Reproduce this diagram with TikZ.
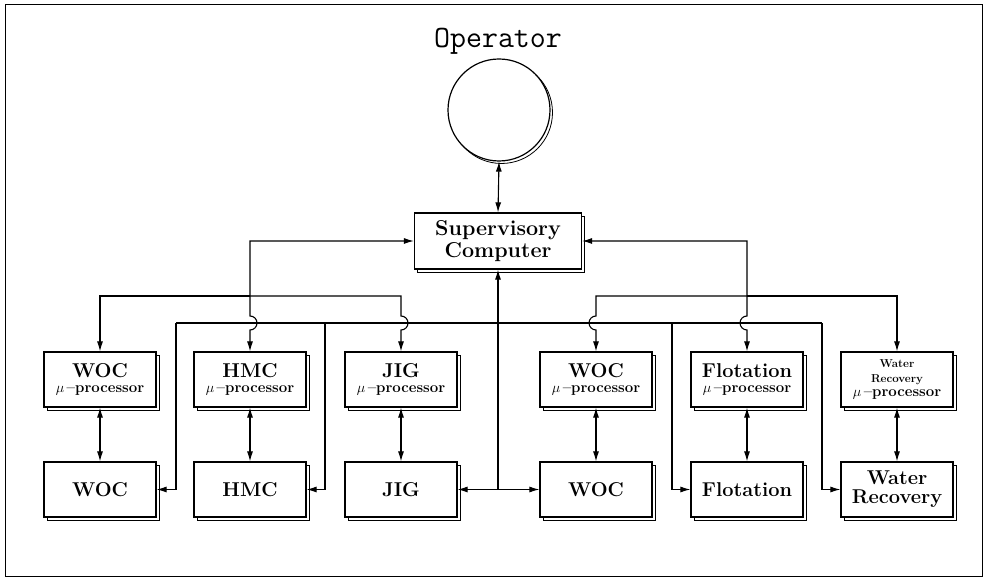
\documentclass[tikz,border=0pt]{standalone}
\usepackage{fontspec}
\usetikzlibrary{arrows.meta,shadows}
\newcommand\lblfont{\fontsize{20}{24}\selectfont\bfseries}
\newcommand\supfont{\fontsize{21.5}{26}\selectfont\bfseries}
\newcommand\prfont{\fontsize{15}{17}\selectfont\bfseries}
\newcommand\wrsmall{\fontsize{11.5}{14}\selectfont\bfseries}
\newcommand\mup{$\mu$\,--processor}
\begin{document}
\begin{tikzpicture}[x=1pt,y=1pt,line width=1.1pt,
  tip/.style={-{Latex[length=10pt,width=6pt]}},
  both/.style={{Latex[length=10pt,width=6pt]}-{Latex[length=10pt,width=6pt]}},
  shad/.style={copy shadow={shadow xshift=3pt,shadow yshift=-3pt,draw=black,fill=white,line width=0.8pt}},
  blk/.style={draw,line width=1.2pt,fill=white,minimum width=112pt,minimum height=55pt,inner sep=0pt,align=center,shad},
  supbox/.style={blk,minimum width=167pt,minimum height=56pt},
  opcircle/.style={circle,draw,line width=1.2pt,fill=white,minimum size=102pt,inner sep=0pt,
     copy shadow={shadow xshift=2.5pt,shadow yshift=-2.5pt,draw=black,fill=white,line width=0.8pt}},
]
\useasboundingbox (0,0) rectangle (987,580);
\draw[line width=1pt] (5,3) rectangle (982,575);

% operator
\node[font=\fontsize{31}{34}\selectfont\ttfamily] (optext) at (498,539) {Operator};
\node[opcircle] (op) at (499,470) {};

% supervisory computer
\node[supbox] (sup) at (498,339) {\supfont Supervisory\\[2pt]\supfont Computer};

% micro-processor row
\node[blk] (woc1p) at (100,200.5) {\lblfont WOC\\[3pt]\prfont\mup};
\node[blk] (hmcp)  at (250,200.5) {\lblfont HMC\\[3pt]\prfont\mup};
\node[blk] (jigp)  at (401,200.5) {\lblfont JIG\\[3pt]\prfont\mup};
\node[blk] (woc2p) at (596,200.5) {\lblfont WOC\\[3pt]\prfont\mup};
\node[blk] (flop)  at (747,200.5) {\lblfont Flotation\\[3pt]\prfont\mup};
\node[blk] (wrp)   at (897,200.5) {\wrsmall Water\\[3pt]\wrsmall Recovery\\[2pt]\prfont\mup};

% plant row
\node[blk] (woc1) at (100,90.5) {\lblfont WOC};
\node[blk] (hmc)  at (250,90.5) {\lblfont HMC};
\node[blk] (jig)  at (401,90.5) {\lblfont JIG};
\node[blk] (woc2) at (596,90.5) {\lblfont WOC};
\node[blk] (flo)  at (747,90.5) {\lblfont Flotation};
\node[blk] (wr)   at (897,90.5) {\lblfont Water\\[4pt]\lblfont Recovery};

% operator <-> supervisory
\draw[both] (op.south) -- (sup.north);

% left distribution
\draw[both] (sup.west) -| (250,264) arc[start angle=90,end angle=-90,radius=7pt] -- (hmcp.north);
\coordinate (lj) at (250,284);
\draw[tip] (lj) -| (woc1p.north);
\draw[tip] (lj) -| (401,264) arc[start angle=90,end angle=-90,radius=7pt] -- (jigp.north);

% right distribution
\draw[both] (sup.east) -| (747,264) arc[start angle=90,end angle=270,radius=7pt] -- (flop.north);
\coordinate (rj) at (747,284);
\draw[tip] (rj) -| (wrp.north);
\draw[tip] (rj) -| (596,264) arc[start angle=90,end angle=270,radius=7pt] -- (woc2p.north);

% lower bus to plant
\coordinate (b1) at (176,257);
\coordinate (b2) at (325,257);
\coordinate (b5) at (672,257);
\coordinate (b6) at (822,257);
\draw (b1) -- (b6);
\draw[tip] (b1) |- (woc1.east);
\draw[tip] (b2) |- (hmc.east);
\draw[tip] (b5) |- (flo.west);
\draw[tip] (b6) |- (wr.west);
\coordinate (hub) at (sup.south |- jig.east);
\draw[tip] (hub) -- (sup.south);
\draw[tip] (hub) -- (jig.east);
\draw[tip] (hub) -- (woc2.west);

% processor <-> plant
\draw[both] (woc1p.south) -- (woc1.north);
\draw[both] (hmcp.south) -- (hmc.north);
\draw[both] (jigp.south) -- (jig.north);
\draw[both] (woc2p.south) -- (woc2.north);
\draw[both] (flop.south) -- (flo.north);
\draw[both] (wrp.south) -- (wr.north);
\end{tikzpicture}
\end{document}
